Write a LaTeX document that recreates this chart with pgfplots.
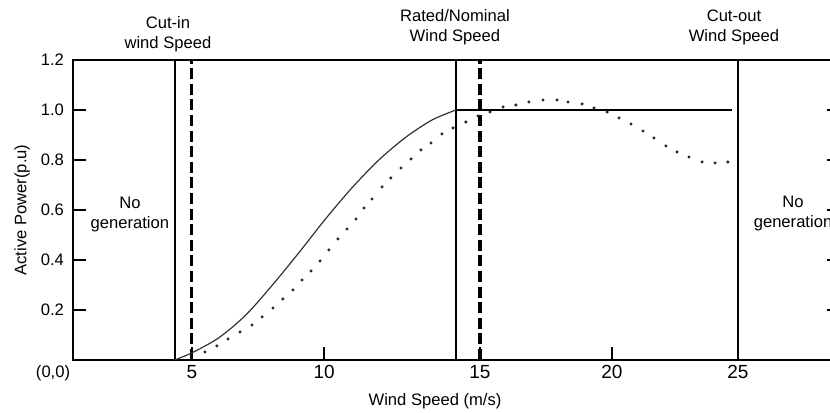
\documentclass[border=0pt]{standalone}
\usepackage{fontspec}
\setmainfont{Liberation Sans}
\usepackage{pgfplots}
\pgfplotsset{compat=1.18}
\newcommand{\fs}{\fontsize{8.3}{10}\selectfont}
\begin{document}
\begin{tikzpicture}
\begin{axis}[
  scale only axis,
  width=383.5pt, height=150pt,
  xmin=0, xmax=28.83, ymin=0, ymax=1.2,
  clip=false,
  axis line style={line width=0.9pt},
  xtick={4.47,9.44,15.30,20.26,25.0},
  xticklabels={5,10,15,20,25},
  ytick={0.2,0.4,0.6,0.8,1.0,1.2},
  yticklabels={0.2,0.4,0.6,0.8,1.0,1.2},
  xtick pos=left,
  ytick pos=both,
  tick align=inside,
  major tick length=6.3pt,
  tick style={line width=0.9pt, black},
  xticklabel style={font=\fontsize{9.5}{11}\selectfont, yshift=1pt},
  yticklabel style={font=\fs, xshift=-1pt},
  yticklabel pos=left,
]
% cut-in lines
\addplot[black, line width=0.65pt] coordinates {(3.83,0) (3.83,1.2)};
\addplot[black, line width=1.6pt, dash pattern=on 5.5pt off 2.3pt] coordinates {(4.47,0) (4.47,1.2)};
% rated lines
\addplot[black, line width=0.65pt] coordinates {(14.40,0) (14.40,1.2)};
\addplot[black, line width=1.6pt, dash pattern=on 5.5pt off 2.3pt] coordinates {(15.30,0) (15.30,1.2)};
% cut-out line
\addplot[black, line width=0.65pt] coordinates {(25.0,0) (25.0,1.2)};
% solid power curve
\addplot[black!80, line width=0.6pt, smooth] coordinates {
(3.83,0) (4.5,0.03) (5.5,0.09) (6.5,0.18) (7.5,0.30) (8.5,0.43) (9.5,0.565)
(10.5,0.69) (11.5,0.80) (12.5,0.89) (13.5,0.96) (14.40,1.0)};
\addplot[black, line width=0.65pt] coordinates {(14.40,1.0) (24.77,1.0)};
% dotted curve
\addplot[only marks, mark=*, mark size=0.55pt, black!85] coordinates {
(4.96,0.032) (5.41,0.056) (5.83,0.084) (6.28,0.112) (6.73,0.14) (7.11,0.172)
(7.52,0.208) (7.89,0.244) (8.27,0.28) (8.61,0.32) (8.95,0.356) (9.29,0.396)
(9.62,0.44) (9.96,0.484) (10.30,0.524) (10.64,0.564) (10.94,0.608) (11.24,0.644)
(11.62,0.692) (11.95,0.728) (12.33,0.768) (12.71,0.804) (13.08,0.84) (13.46,0.868)
(13.87,0.904) (14.29,0.928) (14.77,0.952) (15.23,0.976) (15.68,0.992) (16.17,1.012)
(16.65,1.02) (17.14,1.032) (17.67,1.04) (18.20,1.04) (18.61,1.032) (19.14,1.024)
(19.59,1.008) (20.08,0.992) (20.53,0.968) (20.98,0.944) (21.43,0.916) (21.84,0.888)
(22.29,0.856) (22.71,0.832) (23.16,0.812) (23.65,0.792) (24.14,0.788) (24.62,0.792)};
% texts
\node[font=\fs, align=center, inner sep=0pt] at (axis cs:3.57,1.304) {Cut-in\\wind Speed};
\node[font=\fs, align=center, inner sep=0pt] at (axis cs:14.36,1.33) {Rated/Nominal\\Wind Speed};
\node[font=\fs, align=center, inner sep=0pt] at (axis cs:24.85,1.33) {Cut-out\\Wind Speed};
\node[font=\fs, align=center, inner sep=0pt] at (axis cs:2.14,0.582) {No\\generation};
\node[font=\fs, align=center, inner sep=0pt] at (axis cs:27.07,0.586) {No\\generation};
\node[font=\fs, inner sep=0pt] at (axis cs:-0.75,-0.052) {(0,0)};
\node[font=\fs, inner sep=0pt] at (axis cs:13.61,-0.164) {Wind Speed (m/s)};
\node[font=\fs, inner sep=0pt, rotate=90] at (axis cs:-1.917,0.6) {Active Power(p.u)};
\coordinate (BL) at (axis cs:-2.744,-0.212);
\coordinate (TR) at (axis cs:28.46,1.44);
\end{axis}
\pgfresetboundingbox
\useasboundingbox (BL) rectangle (TR);
\end{tikzpicture}
\end{document}
